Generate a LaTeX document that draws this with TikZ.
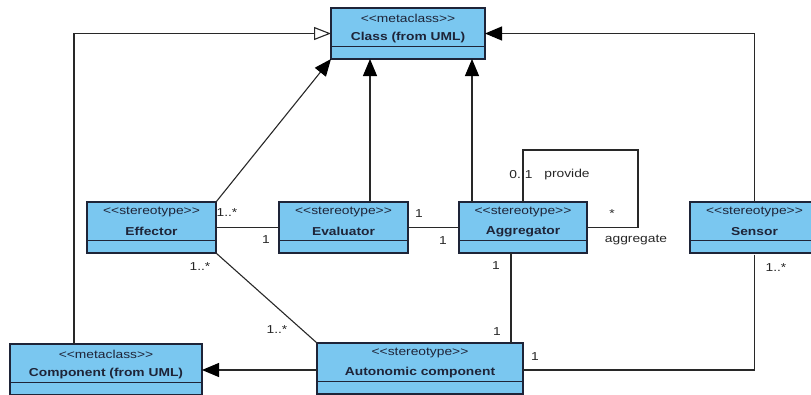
\documentclass[tikz,border=0pt]{standalone}
\usepackage{fontspec}
\setmainfont{Liberation Sans}[FakeStretch=1.2, Ligatures=TeXOff]
\usetikzlibrary{arrows.meta,calc}

\definecolor{boxfill}{RGB}{122,199,240}
\definecolor{boxline}{RGB}{30,36,56}
\definecolor{wire}{RGB}{40,40,40}

\tikzset{
  box/.style={draw=boxline, fill=boxfill, line width=1.2pt,
              minimum height=51, inner sep=0pt, outer sep=0pt},
  sepline/.style={draw=boxline, line width=1.2pt},
  stereo/.style={font=\fontsize{11.5}{12}\selectfont, inner sep=0pt, text=boxline},
  title/.style={font=\fontsize{11.5}{12}\selectfont\bfseries, inner sep=0pt, text=boxline},
  tag/.style={font=\fontsize{11.5}{12}\selectfont, inner sep=0pt, text=black!85},
  assoc/.style={draw=wire, line width=1.1pt},
  inherit/.style={assoc, -{Triangle[length=17pt,width=14pt,color=black]}},
  generalize/.style={assoc, -{Triangle[open,length=17pt,width=13pt,fill=white]}},
}

% class box: name, centre x, top y, width, stereotype, title
\newcommand\umlbox[6]{%
  \node[box, minimum width=#4, anchor=north] (#1) at (#2,#3) {};
  \draw[sepline] ($(#1.north west)+(0,38.5)$) -- ($(#1.north east)+(0,38.5)$);
  \node[stereo] (#1-st) at ($(#1.north)+(0,10)$) {<{}<#5>{}>};
  \node[title] (#1-nm) at ($(#1.north)+(0,29.5)$) {#6};
}

\begin{document}
\begin{tikzpicture}[x=1pt, y=-1pt]
\useasboundingbox (0,0) rectangle (811,394);
\clip (0,0) rectangle (811,394);

% classes
\umlbox{class}{408}{8}{154}{metaclass}{Class (from UML)}
\umlbox{eff}{151.5}{202}{129}{stereotype}{Effector}
\umlbox{eval}{343.5}{202}{129}{stereotype}{Evaluator}
\umlbox{agg}{523}{202}{128}{stereotype}{Aggregator}
\umlbox{sens}{754.5}{202}{129}{stereotype}{Sensor}
\umlbox{comp}{106}{344}{192}{metaclass}{Component (from UML)}
\umlbox{auto}{420}{343}{206}{stereotype}{Autonomic component}

% helper coordinates for connector routes
\coordinate (compup) at (74,0);
\coordinate (evalup) at (370,0);
\coordinate (aggup) at (472,0);
\coordinate (aggdown) at (511,0);
\coordinate (loopne) at (638,150);
\coordinate (compmid) at (0,370);

% generalization and inheritance to Class
\draw[generalize] (comp.north -| compup) |- (class.west);
\draw[inherit] (sens.north) |- (class.east);
\draw[inherit] (eff.north east) -- (class.south west);
\draw[inherit] (eval.north -| evalup) -- (class.south -| evalup);
\draw[inherit] (agg.north -| aggup) -- (class.south -| aggup);
\draw[inherit] (auto.west |- compmid) -- (comp.east |- compmid);

% associations
\draw[assoc] (eff.east) -- (eval.west);
\draw[assoc] (eval.east) -- (agg.west);
\draw[assoc] (agg.north) |- (loopne) |- (agg.east);
\draw[assoc] (agg.south -| aggdown) -- (auto.north -| aggdown);
\draw[assoc] (eff.south east) -- (auto.north west);
\draw[assoc] ([yshift=-1.5pt]sens.south) |- ([yshift=-1.5pt]auto.east);

% multiplicities and role names
\node[tag] (m1) at (227,213) {1..*};
\node[tag] (m2) at (266,240) {1};
\node[tag] (m3) at (419,214) {1};
\node[tag] (m4) at (443,241) {1};
\node[tag] (m5) at (521,175) {0..1};
\node[tag] (r1) at (567,175) {provide};
\node[tag] (m6) at (612,214) {*};
\node[tag] (r2) at (636,240) {aggregate};
\node[tag] (m7) at (496,266) {1};
\node[tag] (m8) at (776,268) {1..*};
\node[tag] (m9) at (200,267) {1..*};
\node[tag] (m10) at (277,330) {1..*};
\node[tag] (m11) at (497,332) {1};
\node[tag] (m12) at (535,357) {1};
\end{tikzpicture}
\end{document}
